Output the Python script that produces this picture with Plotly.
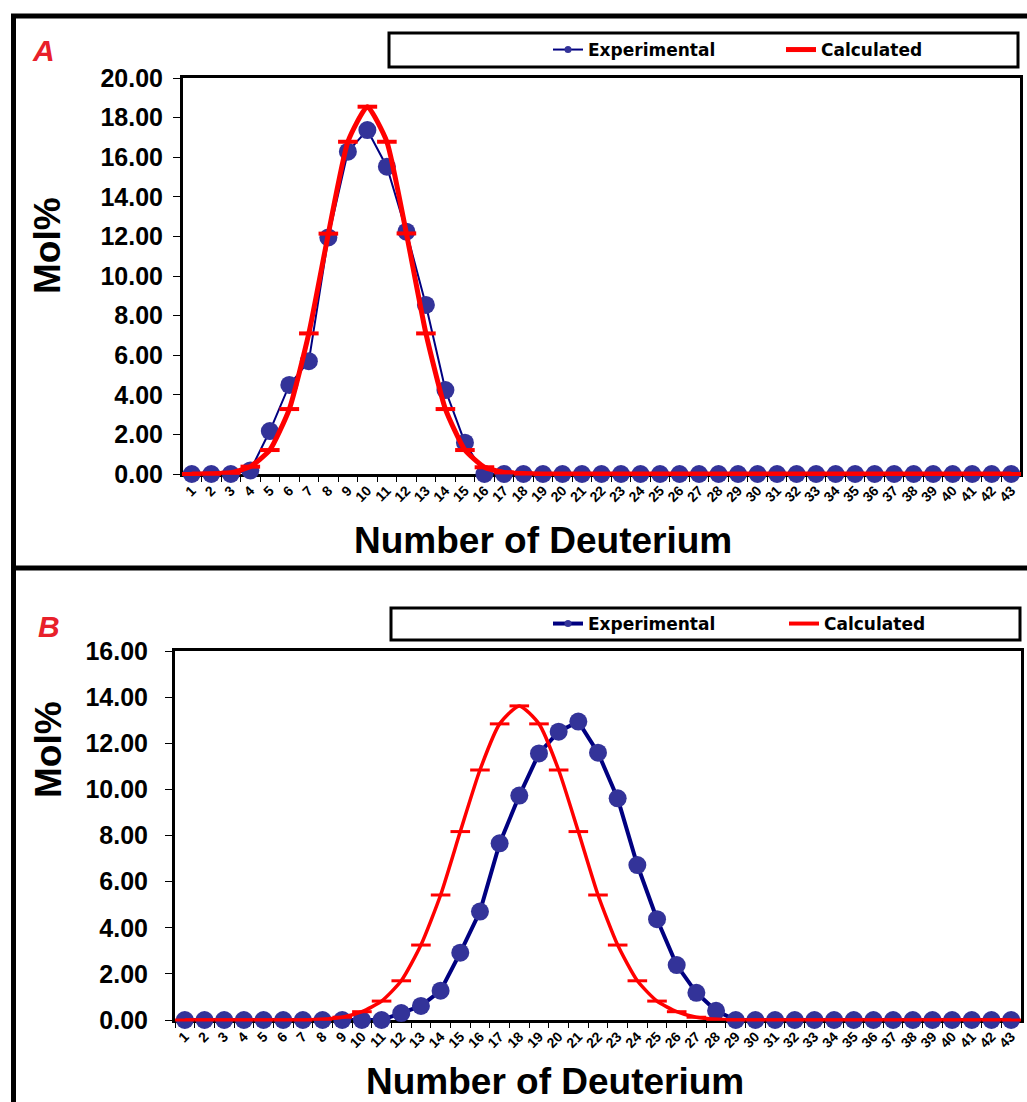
import plotly.graph_objects as go

# ---------------- data ----------------
deuterium = [str(i) for i in range(1, 44)]

exp_A = [0, 0, 0, 0.18, 2.17, 4.50, 5.70, 11.95, 16.28, 17.37, 15.52, 12.24, 8.54, 4.24, 1.58,
         0, 0, 0, 0, 0, 0, 0, 0, 0, 0, 0, 0, 0, 0, 0, 0, 0, 0, 0, 0, 0, 0, 0, 0, 0, 0, 0, 0]
calc_A = [0.00, 0.01, 0.06, 0.37, 1.21, 3.28, 7.10, 12.14, 16.78, 18.55, 16.78, 12.15, 7.10, 3.28, 1.21,
          0.34, 0.08, 0.02, 0, 0, 0, 0, 0, 0, 0, 0, 0, 0, 0, 0, 0, 0, 0, 0, 0, 0, 0, 0, 0, 0, 0, 0, 0]

exp_B = [0, 0, 0, 0, 0, 0, 0, 0, 0, 0, 0,
         0.30, 0.61, 1.27, 2.92, 4.70, 7.66, 9.73, 11.56, 12.50, 12.94, 11.59, 9.61, 6.72, 4.37, 2.38, 1.18, 0.40,
         0, 0, 0, 0, 0, 0, 0, 0, 0, 0, 0, 0, 0, 0, 0]
calc_B = [0, 0, 0, 0, 0, 0, 0, 0.03, 0.12, 0.36, 0.82, 1.70, 3.25, 5.42, 8.17, 10.84, 12.84, 13.62,
          12.84, 10.84, 8.17, 5.42, 3.25, 1.70, 0.82, 0.36, 0.12, 0.03,
          0, 0, 0, 0, 0, 0, 0, 0, 0, 0, 0, 0, 0, 0, 0]

y_ticks_A = [0, 2, 4, 6, 8, 10, 12, 14, 16, 18, 20]
y_ticks_B = [0, 2, 4, 6, 8, 10, 12, 14, 16]

series_names = ["Experimental", "Calculated"]
x_title = "Number of Deuterium"
y_title = "Mol%"

# ---------------- layout helpers ----------------
W, H = 1027, 1102
def px(x):
    return x / W
def py(y):
    return 1 - y / H

BLUE_M = "#333399"
BLUE_L = "#000080"
RED = "#FF0000"
FONT = "Liberation Sans"

fig = go.Figure()

# Panel A traces
fig.add_trace(go.Scatter(x=deuterium, y=exp_A, mode="lines+markers", xaxis="x", yaxis="y",
                         line=dict(color=BLUE_L, width=2),
                         marker=dict(color=BLUE_M, size=18, line=dict(width=0)),
                         cliponaxis=False, showlegend=False))
fig.add_trace(go.Scatter(x=deuterium, y=calc_A, mode="lines+markers", xaxis="x", yaxis="y",
                         line=dict(color=RED, width=5, shape="spline", smoothing=0.5),
                         marker=dict(symbol="line-ew", size=14, line=dict(color=RED, width=4)),
                         cliponaxis=False, showlegend=False))
# Panel B traces
fig.add_trace(go.Scatter(x=deuterium, y=exp_B, mode="lines+markers", xaxis="x2", yaxis="y2",
                         line=dict(color=BLUE_L, width=4),
                         marker=dict(color=BLUE_M, size=18, line=dict(width=0)),
                         cliponaxis=False, showlegend=False))
fig.add_trace(go.Scatter(x=deuterium, y=calc_B, mode="lines+markers", xaxis="x2", yaxis="y2",
                         line=dict(color=RED, width=3.5, shape="spline", smoothing=0.6),
                         marker=dict(symbol="line-ew", size=14, line=dict(color=RED, width=3)),
                         cliponaxis=False, showlegend=False))

# Legend-only entries
fig.add_trace(go.Scatter(x=[None], y=[None], mode="lines+markers", name=series_names[0],
                         line=dict(color=BLUE_L, width=2), marker=dict(color=BLUE_M, size=7),
                         legend="legend", xaxis="x", yaxis="y"))
fig.add_trace(go.Scatter(x=[None], y=[None], mode="lines", name=series_names[1],
                         line=dict(color=RED, width=5), legend="legend", xaxis="x", yaxis="y"))
fig.add_trace(go.Scatter(x=[None], y=[None], mode="lines+markers", name=series_names[0],
                         line=dict(color=BLUE_L, width=4), marker=dict(color=BLUE_M, size=7),
                         legend="legend2", xaxis="x2", yaxis="y2"))
fig.add_trace(go.Scatter(x=[None], y=[None], mode="lines", name=series_names[1],
                         line=dict(color=RED, width=4), legend="legend2", xaxis="x2", yaxis="y2"))

tickfont_x = dict(family=FONT, size=14, color="black", weight="bold")
tickfont_y = dict(family=FONT, size=25, color="black", weight="bold")

common_x = dict(type="category", showline=True, linewidth=3, linecolor="black", mirror=True,
                showgrid=False, zeroline=False, ticks="outside", ticklen=5, tickwidth=1,
                tickcolor="black", tickson="boundaries", tickangle=-45, tickfont=tickfont_x,
                layer="below traces", fixedrange=True, automargin=False)
common_y = dict(showline=True, linewidth=3, linecolor="black", mirror=True, showgrid=False,
                zeroline=False, ticks="outside", ticklen=7, tickwidth=1, tickcolor="black",
                tickformat=".2f", tickfont=tickfont_y, layer="below traces", automargin=False)

legend_font = dict(family="DejaVu Sans", size=17, color="black", weight="bold")

fig.update_layout(
    width=W, height=H,
    margin=dict(l=0, r=0, t=0, b=0, autoexpand=False),
    paper_bgcolor="white", plot_bgcolor="white",
    xaxis=dict(common_x, domain=[px(183), px(1020)], range=[-0.45, 42.45], anchor="y"),
    yaxis=dict(common_y, domain=[py(474), py(78)], range=[0, 20], tickvals=y_ticks_A, anchor="x",
               ticklabelstandoff=5),
    xaxis2=dict(common_x, domain=[px(175), px(1021)], range=[-0.5, 42.5], anchor="y2"),
    yaxis2=dict(common_y, domain=[py(1020), py(651)], range=[0, 16], tickvals=y_ticks_B, anchor="x2",
                ticklabelstandoff=12),
    legend=dict(orientation="h", x=px(548), y=py(50), xanchor="left", yanchor="middle",
                entrywidth=188, entrywidthmode="pixels", bgcolor="rgba(0,0,0,0)", borderwidth=0,
                font=legend_font),
    legend2=dict(orientation="h", x=px(548), y=py(624), xanchor="left", yanchor="middle",
                 entrywidth=191, entrywidthmode="pixels", bgcolor="rgba(0,0,0,0)", borderwidth=0,
                 font=legend_font),
    showlegend=True,
)

# frames and legend boxes
shapes = [
    dict(type="line", xref="paper", yref="paper", x0=px(11), x1=1, y0=py(16), y1=py(16),
         line=dict(color="black", width=5)),
    dict(type="line", xref="paper", yref="paper", x0=px(13.5), x1=px(13.5), y0=py(14), y1=0,
         line=dict(color="black", width=5)),
    dict(type="line", xref="paper", yref="paper", x0=px(11), x1=1, y0=py(568), y1=py(568),
         line=dict(color="black", width=5)),
    dict(type="rect", xref="paper", yref="paper", x0=px(389), x1=px(1018), y0=py(33), y1=py(67),
         line=dict(color="black", width=3)),
    dict(type="rect", xref="paper", yref="paper", x0=px(391), x1=px(1020), y0=py(608), y1=py(640),
         line=dict(color="black", width=3)),
]
fig.update_layout(shapes=shapes)

title_font = dict(family=FONT, size=37, color="black", weight="bold")
ann = [
    dict(text="A", x=px(43), y=py(50), font=dict(family=FONT, size=30, color="#E8202A", weight="bold", style="italic")),
    dict(text="B", x=px(49), y=py(626), font=dict(family=FONT, size=30, color="#E8202A", weight="bold", style="italic")),
    dict(text=y_title, x=px(48), y=py(246), textangle=-90, font=title_font),
    dict(text=y_title, x=px(48), y=py(750), textangle=-90, font=title_font),
    dict(text=x_title, x=px(543), y=py(540), font=title_font),
    dict(text=x_title, x=px(555), y=py(1081), font=title_font),
]
fig.update_layout(annotations=[dict(a, xref="paper", yref="paper", showarrow=False,
                                    xanchor="center", yanchor="middle") for a in ann])

fig.write_html("out.html")
